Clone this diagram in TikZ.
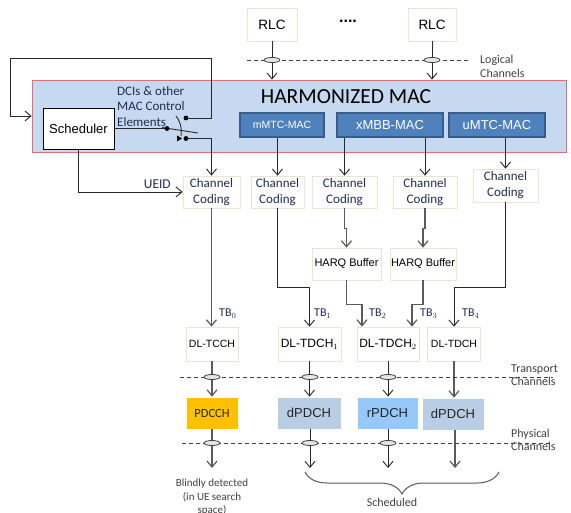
\documentclass[tikz,border=0pt]{standalone}
\usepackage{fontspec}
\setmainfont{Carlito}
\newfontfamily\arial{Liberation Sans}
\usetikzlibrary{arrows.meta,shapes.geometric,decorations.pathreplacing}
\definecolor{macfill}{RGB}{198,217,240}
\definecolor{macline}{RGB}{226,110,110}
\definecolor{subfill}{RGB}{79,129,189}
\definecolor{subline}{RGB}{56,93,138}
\definecolor{boxline}{RGB}{232,228,214}
\definecolor{cctext}{RGB}{31,45,80}
\definecolor{labc}{RGB}{64,64,64}
\definecolor{linkc}{RGB}{40,40,40}
\definecolor{greyc}{RGB}{90,90,90}
\definecolor{pdcchc}{RGB}{255,192,0}
\definecolor{dpdchc}{RGB}{185,205,229}
\definecolor{rpdchc}{RGB}{150,200,250}
\begin{document}
\begin{tikzpicture}[x=1pt,y=-1pt,
  box/.style={draw=boxline, fill=white, line width=0.7pt, inner sep=0pt, align=center},
  ccbox/.style={box, text=cctext, font=\fontsize{13}{16}\selectfont},
  arbox/.style={box, font=\arial\fontsize{11}{13}\selectfont},
  macsub/.style={draw=subline, fill=subfill, line width=1.6pt, text=white, inner sep=0pt,
    minimum height=24, font=\arial\fontsize{13}{15}\selectfont},
  phybox/.style={draw=white, line width=0.7pt, inner sep=0pt, minimum height=32},
  link/.style={draw=linkc, line width=0.9pt},
  glink/.style={draw=greyc, line width=1.2pt},
  tip/.style={-{Straight Barb[length=6pt,width=10pt]}},
  chanline/.style={draw=labc, dashed, dash pattern=on 4pt off 3pt, line width=0.9pt},
  tap/.style={ellipse, draw=labc, fill=white!90!black, line width=0.8pt,
    minimum width=16, minimum height=5, inner sep=0pt},
  contact/.style={circle, fill=black, inner sep=0pt, minimum size=4.8},
  chanlbl/.style={anchor=west, align=left, inner sep=0pt, text=labc,
    font=\fontsize{12}{13.5}\selectfont},
  tblbl/.style={anchor=west, inner sep=0pt, text=cctext, font=\fontsize{12}{13}\selectfont}]
\useasboundingbox (0,0) rectangle (571,513);

% RLC entities
\node[box, minimum width=50, minimum height=33, font=\arial\fontsize{13.5}{15}\selectfont] (rlc1) at (272,24.5) {RLC};
\node[box, minimum width=48, minimum height=33, font=\arial\fontsize{13.5}{15}\selectfont] (rlc2) at (432,24.5) {RLC};
\node[font=\arial\bfseries\fontsize{16}{18}\selectfont, inner sep=0pt] (more) at (348,21) {....};

% MAC layer
\node[draw=macline, fill=macfill, line width=0.8pt, minimum width=534, minimum height=72, inner sep=0pt] (mac) at (299,116) {};
\node[font=\fontsize{21.5}{24}\selectfont, inner sep=0pt] (title) at (346,97) {HARMONIZED MAC};
\node[macsub, minimum width=84, font=\arial\fontsize{10.5}{12}\selectfont] (mmtc) at (282,125) {mMTC-MAC};
\node[macsub, minimum width=106] (xmbb) at (390,125) {xMBB-MAC};
\node[macsub, minimum width=96] (umtc) at (497,125) {uMTC-MAC};
\node[draw=black, fill=white, line width=0.8pt, minimum width=71, minimum height=41, inner sep=0pt,
  font=\arial\fontsize{13}{15}\selectfont] (sched) at (78.5,128.5) {Scheduler};
\node[anchor=north west, align=left, inner sep=0pt, text=cctext, font=\fontsize{13}{15.5}\selectfont]
  (dci) at (117,86) {DCIs \& other\\MAC Control\\Elements};

% switch for control elements
\coordinate (swA) at (167,128.5);
\coordinate (swB) at (186,118);
\coordinate (swC) at (186,138.5);
\coordinate (fbR) at (211.5,58);
\coordinate (fbL) at (10,58);
\draw[link] (sched.east) -- (swA);
\draw[link] (162,127.5) -- (198,133);
\draw[link] (176,116) .. controls (180,121) and (182,127) .. (181,136);
\fill (177,135.5) -- (182,138.5) -- (177,141.5) -- cycle;
\node[contact] at (swA) {};
\node[contact] at (swB) {};
\node[contact] at (swC) {};
\draw[link, tip] (swB) -| (fbR) -- (fbL) |- (mac.west);

% channel coding
\node[ccbox, minimum width=57, minimum height=32] (cc0) at (211.5,192) {Channel\\Coding};
\node[ccbox, minimum width=53, minimum height=32] (cc1) at (277.5,192) {Channel\\Coding};
\node[ccbox, minimum width=65, minimum height=32] (cc2) at (344.5,192) {Channel\\Coding};
\node[ccbox, minimum width=64, minimum height=32] (cc3) at (425,192) {Channel\\Coding};
\node[ccbox, minimum width=65, minimum height=33] (cc4) at (505.5,185.5) {Channel\\Coding};

\draw[link, tip] (swC) -| (cc0.north);
\draw[link, tip] (sched.south) |- (cc0.west);
\node[anchor=south east, inner sep=0pt, text=cctext, font=\fontsize{13.5}{15}\selectfont] (ueid) at (171,189) {UEID};
\draw[link, tip] (cc1.north |- mmtc.south) -- (cc1.north);
\draw[link, tip] (cc2.north |- xmbb.south) -- (cc2.north);
\draw[link, tip] (cc3.north |- xmbb.south) -- (cc3.north);
\draw[link, tip] (cc4.north |- umtc.south) -- (cc4.north);

% HARQ buffers
\node[arbox, minimum width=69, minimum height=32] (hb1) at (346.5,264) {HARQ Buffer};
\node[arbox, minimum width=66, minimum height=32] (hb2) at (423,264) {HARQ Buffer};
\draw[glink, tip] (cc2.south) -- ++(0,20) -| (hb1.north);
\draw[glink, tip] (cc3.south) -- ++(0,20) -| (hb2.north);

% transport channels
\node[arbox, minimum width=52, minimum height=34, font=\arial\fontsize{10.5}{12}\selectfont] (dl0) at (212,344) {DL-TCCH};
\node[arbox, minimum width=63, minimum height=34, font=\arial\fontsize{12}{14}\selectfont] (dl1) at (309.5,344) {DL-TDCH$_1$};
\node[arbox, minimum width=62, minimum height=34, font=\arial\fontsize{12}{14}\selectfont] (dl2) at (388,344) {DL-TDCH$_2$};
\node[arbox, minimum width=53, minimum height=34, font=\arial\fontsize{10.5}{12}\selectfont] (dl3) at (454,344) {DL-TDCH};

\draw[glink, tip] (cc0.south) -- (cc0.south |- dl0.north);
\draw[link, tip] (cc1.south) -- ++(0,79) -| (dl1.north);
\draw[glink, tip] (hb1.south) -- ++(0,24) -| ([xshift=-26pt]dl2.north);
\draw[glink, tip] (hb2.south) -- ++(0,24) -| ([xshift=24pt]dl2.north);
\draw[link, tip] (cc4.south) -- ++(0,85) -| (dl3.north);
\node[tblbl] (tb0) at (219,314) {TB$_0$};
\node[tblbl] (tb1) at (314,314) {TB$_1$};
\node[tblbl] (tb2) at (369,314) {TB$_2$};
\node[tblbl] (tb3) at (420,314) {TB$_3$};
\node[tblbl] (tb4) at (462,314) {TB$_4$};

% physical channels
\node[phybox, fill=pdcchc, minimum width=52, text=black!85, font=\fontsize{12.5}{14}\selectfont] (p0) at (212,413) {PDCCH};
\node[phybox, fill=dpdchc, minimum width=64, text=black!85, font=\arial\fontsize{13}{15}\selectfont] (p1) at (309,413) {dPDCH};
\node[phybox, fill=rpdchc, minimum width=61, text=black!85, font=\arial\fontsize{13}{15}\selectfont] (p2) at (387.5,413) {rPDCH};
\node[phybox, fill=dpdchc, minimum width=62, text=black!85, font=\arial\fontsize{13}{15}\selectfont] (p3) at (453,414) {dPDCH};

\draw[glink, tip] (dl0.south) -- (dl0.south |- p0.north);
\draw[link, tip] (dl1.south) -- (dl1.south |- p1.north);
\draw[link, tip] (dl2.south) -- (dl2.south |- p2.north);
\draw[glink, tip] (dl3.south) -- (dl3.south |- p3.north);

\coordinate (o0) at (212,468);
\coordinate (o1) at (310,468);
\coordinate (o2) at (388,468);
\coordinate (o3) at (455,468);
\draw[glink, tip] (p0.south) -- (o0);
\draw[link, tip] (p1.south -| o1) -- (o1);
\draw[link, tip] (p2.south -| o2) -- (o2);
\draw[glink, tip] (p3.south -| o3) -- (o3);

% channel boundaries with taps
\draw[chanline] (247,60) -- (468,60);
\draw[chanline] (180,377) -- (553,377);
\draw[chanline] (182,443) -- (553,443);
\draw[link, tip] (rlc1.south) -- (rlc1.south |- mac.north);
\draw[link, tip] (rlc2.south) -- (rlc2.south |- mac.north);
\node[tap] at (272,60) {};
\node[tap] at (432,60) {};
\node[tap] at (212,377) {};
\node[tap] at (310,377) {};
\node[tap] at (388,377) {};
\node[tap] at (212,443) {};
\node[tap] at (310,443) {};
\node[tap] at (388,443) {};
\node[chanlbl] (lch) at (480,66.5) {Logical\\Channels};
\node[chanlbl] (tch) at (511,375) {Transport\\Channels};
\node[chanlbl] (pch) at (511,440) {Physical\\Channels};

% notes below
\node[anchor=north, align=center, inner sep=0pt, text=labc, font=\fontsize{11}{13.5}\selectfont]
  (blind) at (212,479) {Blindly detected\\(in UE search\\space)};
\coordinate (brL) at (305,472);
\coordinate (brR) at (499,472);
\draw[glink, line width=1pt, decorate, decoration={brace, amplitude=22pt, mirror}] (brL) -- (brR);
\node[text=labc, inner sep=0pt, font=\fontsize{12}{13}\selectfont] (sch) at (392,502) {Scheduled};
\end{tikzpicture}
\end{document}
